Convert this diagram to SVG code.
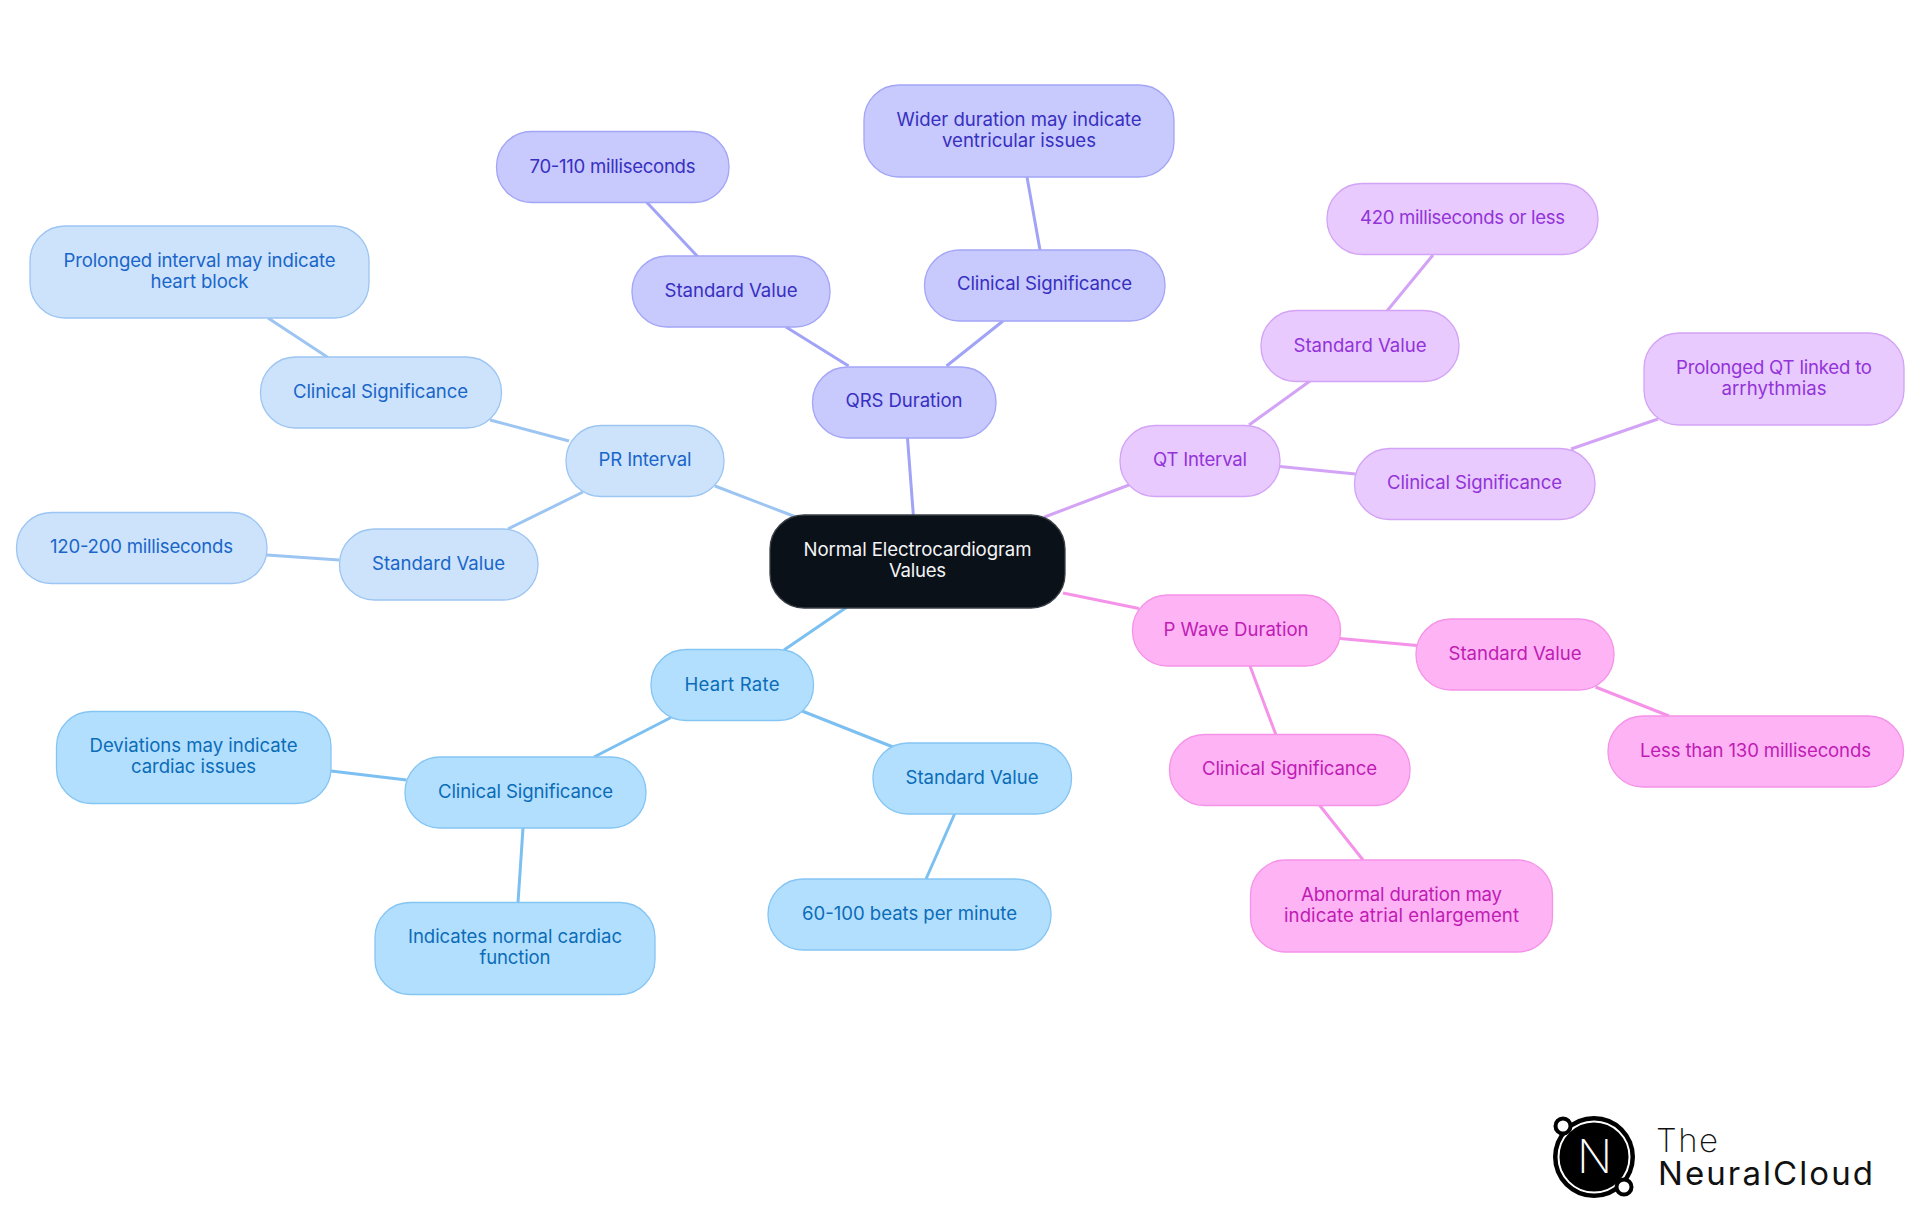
<svg xmlns="http://www.w3.org/2000/svg" width="1920" height="1215" viewBox="0 0 1920 1215">
<style>
text{font-family:"Inter","Noto Sans",sans-serif;font-size:18.6px;font-weight:400;text-anchor:middle}
.e{fill:none;stroke-width:3;stroke-linecap:butt}
rect{stroke-width:1.3}
.c rect{fill:#0b1119;stroke:#3a3f46}.c text{fill:#f4f5f6}
.h rect{fill:#b3dffe;stroke:#85c5f3}.h text{fill:#0b6cb8}
.r rect{fill:#cde3fc;stroke:#9cc5f2}.r text{fill:#1a66c8}
.q rect{fill:#c8c9fd;stroke:#a3a5f6}.q text{fill:#3730c0}
.t rect{fill:#e8caff;stroke:#d3a3f5}.t text{fill:#9333d8}
.p rect{fill:#feb3f5;stroke:#f593e8}.p text{fill:#c01cb4}
.eh{stroke:#7cc0f2}.er{stroke:#9cc5f2}.eq{stroke:#a0a3f6}.et{stroke:#d3a3f5}.ep{stroke:#f593e8}
</style>
<rect width="1920" height="1215" fill="#fff" stroke="none"/>
<g id="connectors">
<path class="e eq" d="M913.500 517L907.400 437M848.600 366L786 327M698 257L646.500 202M946.500 366L1003 321M1040 250L1027 177"/>
<path class="e et" d="M1044.500 517L1129 485M1249 425L1310 381M1387 311L1433 255M1280 466.500L1355.500 474M1571 449L1658 419"/>
<path class="e ep" d="M1063 593L1139 608.500M1340 638.500L1417 645.500M1595.500 687L1669 716M1250 666L1276 735M1319 804.500L1363 860"/>
<path class="e eh" d="M847 607L784 650M802 711L893 747M955 813L926 879M671 717.500L594 757M331 771L406.500 780M523 828L518 902.500"/>
<path class="e er" d="M796 517L715 486M569 441L490 420M328 357.500L268 318M583 492L508 529M339 560L267 555"/>
</g>
<g id="root" class="c"><rect x="770" y="515" width="295" height="93" rx="34"/><text x="917.500" y="556" textLength="228">Normal Electrocardiogram</text><text x="917.500" y="577" textLength="57">Values</text></g>
<g id="hr" class="h"><rect x="651" y="649.500" width="162.500" height="71" rx="35"/><text x="732" y="691" textLength="95">Heart Rate</text></g>
<g id="hr-std" class="h"><rect x="873" y="743" width="198.500" height="71" rx="35"/><text x="972" y="784" textLength="133">Standard Value</text></g>
<g id="hr-val" class="h"><rect x="768" y="879" width="283" height="71" rx="35"/><text x="909.500" y="920" textLength="215">60-100 beats per minute</text></g>
<g id="hr-cs" class="h"><rect x="405" y="757" width="241" height="71" rx="35"/><text x="525.500" y="798" textLength="175">Clinical Significance</text></g>
<g id="hr-dev" class="h"><rect x="56.500" y="711.500" width="274.500" height="92" rx="35"/><text x="193.500" y="752" textLength="208">Deviations may indicate</text><text x="193.500" y="773" textLength="125">cardiac issues</text></g>
<g id="hr-ind" class="h"><rect x="375" y="902.500" width="280" height="92" rx="35"/><text x="515" y="943" textLength="214">Indicates normal cardiac</text><text x="515" y="964" textLength="71">function</text></g>
<g id="pr" class="r"><rect x="566" y="425.500" width="158" height="71" rx="35"/><text x="645" y="466" textLength="93">PR Interval</text></g>
<g id="pr-cs" class="r"><rect x="260.500" y="357" width="241" height="71" rx="35"/><text x="380.500" y="398" textLength="175">Clinical Significance</text></g>
<g id="pr-pro" class="r"><rect x="30" y="226" width="339" height="92" rx="35"/><text x="199.500" y="267" textLength="272">Prolonged interval may indicate</text><text x="199.500" y="288" textLength="98">heart block</text></g>
<g id="pr-std" class="r"><rect x="339.500" y="529" width="198.500" height="71" rx="35"/><text x="438.500" y="570" textLength="133">Standard Value</text></g>
<g id="pr-val" class="r"><rect x="16.500" y="512.500" width="250.500" height="71" rx="35"/><text x="141.500" y="553" textLength="183">120-200 milliseconds</text></g>
<g id="qrs" class="q"><rect x="812.500" y="367" width="183.500" height="71" rx="35"/><text x="904" y="407" textLength="117">QRS Duration</text></g>
<g id="qrs-std" class="q"><rect x="632" y="256" width="198" height="71" rx="35"/><text x="731" y="297" textLength="133">Standard Value</text></g>
<g id="qrs-val" class="q"><rect x="496.500" y="131.500" width="232.500" height="71" rx="35"/><text x="612.500" y="173" textLength="166">70-110 milliseconds</text></g>
<g id="qrs-cs" class="q"><rect x="924.500" y="250" width="240.500" height="71" rx="35"/><text x="1044.500" y="290" textLength="175">Clinical Significance</text></g>
<g id="qrs-wid" class="q"><rect x="864" y="85" width="310" height="92" rx="35"/><text x="1019" y="126" textLength="245">Wider duration may indicate</text><text x="1019" y="147" textLength="154">ventricular issues</text></g>
<g id="qt" class="t"><rect x="1120" y="425.500" width="160" height="71" rx="35"/><text x="1200" y="466" textLength="94">QT Interval</text></g>
<g id="qt-std" class="t"><rect x="1261" y="310.500" width="198" height="71" rx="35"/><text x="1360" y="351.500" textLength="133">Standard Value</text></g>
<g id="qt-val" class="t"><rect x="1327" y="183.500" width="271" height="71" rx="35"/><text x="1462.500" y="224" textLength="205">420 milliseconds or less</text></g>
<g id="qt-cs" class="t"><rect x="1354.500" y="448.500" width="240.500" height="71" rx="35"/><text x="1474.500" y="489" textLength="175">Clinical Significance</text></g>
<g id="qt-pro" class="t"><rect x="1644" y="333" width="260" height="92" rx="35"/><text x="1774" y="374" textLength="196">Prolonged QT linked to</text><text x="1774" y="395" textLength="105">arrhythmias</text></g>
<g id="pw" class="p"><rect x="1132.500" y="595" width="208" height="71" rx="35"/><text x="1236" y="636" textLength="145">P Wave Duration</text></g>
<g id="pw-std" class="p"><rect x="1416" y="619" width="198" height="71" rx="35"/><text x="1515" y="660" textLength="133">Standard Value</text></g>
<g id="pw-val" class="p"><rect x="1608" y="716" width="295.500" height="71" rx="35"/><text x="1755.500" y="757" textLength="231">Less than 130 milliseconds</text></g>
<g id="pw-cs" class="p"><rect x="1169.500" y="734.500" width="240.500" height="71" rx="35"/><text x="1289.500" y="775" textLength="175">Clinical Significance</text></g>
<g id="pw-abn" class="p"><rect x="1250.500" y="860" width="302" height="92" rx="35"/><text x="1401.500" y="901" textLength="201">Abnormal duration may</text><text x="1401.500" y="922" textLength="235">indicate atrial enlargement</text></g>
<g id="logo">
<circle cx="1594" cy="1157" r="41" fill="#000"/>
<circle cx="1594" cy="1157" r="35.500" fill="none" stroke="#fff" stroke-width="2"/>
<circle cx="1563" cy="1126" r="7.500" fill="#fff" stroke="#000" stroke-width="4"/>
<circle cx="1624" cy="1187" r="7.500" fill="#fff" stroke="#000" stroke-width="4"/>
<text x="1594.500" y="1173" textLength="37" style="font-size:46px;font-weight:200;fill:#fff">N</text>
<text x="1656" y="1152" textLength="62" style="font-size:33px;font-weight:200;text-anchor:start;fill:#111">The</text>
<text x="1658" y="1185" textLength="215" style="font-size:33px;font-weight:400;text-anchor:start;fill:#111">NeuralCloud</text>
</g>
</svg>
